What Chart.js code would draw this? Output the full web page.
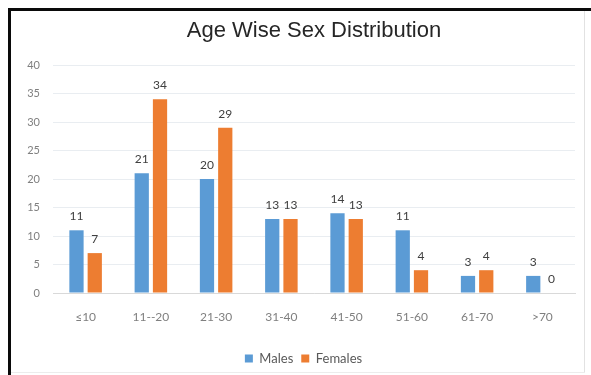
<!DOCTYPE html>
<html>
<head>
<meta charset="utf-8">
<script src="https://cdn.jsdelivr.net/npm/chart.js@4.4.1/dist/chart.umd.min.js"></script>
<style>
  html, body { margin: 0; padding: 0; background: #fff; }
  body { width: 591px; height: 375px; position: relative; overflow: hidden; }
  #wrap { position: absolute; left: 0; top: 0; width: 591px; height: 375px; }
  .frame-top { position: absolute; left: 8px; top: 8px; width: 583px; height: 3px; background: #0a0a0a; }
  .frame-left { position: absolute; left: 8px; top: 8px; width: 3px; height: 367px; background: #0a0a0a; }
  .frame-right { position: absolute; left: 584px; top: 11px; width: 1px; height: 362px; background: #e2e2e2; }
  .frame-bottom { position: absolute; left: 11px; top: 372px; width: 574px; height: 1px; background: #ececec; }
</style>
</head>
<body>
<div id="wrap"><canvas id="chart" width="591" height="375"></canvas></div>
<div class="frame-top"></div>
<div class="frame-left"></div>
<div class="frame-right"></div>
<div class="frame-bottom"></div>
<script>
// Age groups and counts per sex
const ageGroups = ['\u226410', '11--20', '21-30', '31-40', '41-50', '51-60', '61-70', '>70'];
const males = [11, 21, 20, 13, 14, 11, 3, 3];
const females = [7, 34, 29, 13, 13, 4, 4, 0];
const yTicks = [0, 5, 10, 15, 20, 25, 30, 35, 40];

const BLUE = '#5B9BD5';
const ORANGE = '#ED7D31';

// Value labels above each bar
const barValueLabels = {
  id: 'barValueLabels',
  afterDatasetsDraw(chart) {
    const ctx = chart.ctx;
    ctx.save();
    ctx.font = '12px Lato, "Open Sans", sans-serif';
    ctx.fillStyle = '#404040';
    ctx.textAlign = 'center';
    ctx.textBaseline = 'alphabetic';
    chart.data.datasets.forEach((ds, i) => {
      const meta = chart.getDatasetMeta(i);
      meta.data.forEach((bar, j) => {
        ctx.fillText(String(ds.data[j]), bar.x, bar.y - 10);
      });
    });
    ctx.restore();
  }
};

// Centre the legend between the y-axis labels and the right edge
const legendOffset = {
  id: 'legendOffset',
  afterLayout(chart) {
    if (chart.legend) {
      chart.legend.left += 21;
      chart.legend.right += 0;
    }
  }
};

new Chart(document.getElementById('chart'), {
  type: 'bar',
  data: {
    labels: ageGroups,
    datasets: [
      { label: 'Males', data: males, backgroundColor: BLUE, categoryPercentage: 0.56, barPercentage: 0.78 },
      { label: 'Females', data: females, backgroundColor: ORANGE, categoryPercentage: 0.56, barPercentage: 0.78 }
    ]
  },
  options: {
    responsive: false,
    animation: false,
    events: [],
    layout: { padding: { left: 11, right: 16, top: 11, bottom: 0 } },
    plugins: {
      title: {
        display: true,
        fullSize: false,
        text: 'Age Wise Sex Distribution',
        color: '#262626',
        font: { family: '"Liberation Sans", Arial, sans-serif', size: 22, weight: 'normal' },
        padding: { top: 7, bottom: 20.6 }
      },
      legend: {
        position: 'bottom',
        labels: {
          boxWidth: 8,
          boxHeight: 8,
          padding: 8,
          color: '#595959',
          font: { family: 'Lato, "Open Sans", sans-serif', size: 13 }
        }
      },
      tooltip: { enabled: false }
    },
    scales: {
      x: {
        grid: { display: false, drawTicks: false },
        border: { display: true, color: '#d9d9d9', width: 1 },
        ticks: {
          color: '#7f7f7f',
          padding: 17,
          font: { family: 'Lato, "Open Sans", sans-serif', size: 12 }
        },
        afterFit(scale) { scale.height = 51; }
      },
      y: {
        min: 0,
        max: 40,
        afterBuildTicks(scale) { scale.ticks = yTicks.map(v => ({ value: v })); },
        grid: { color: '#e9edf1', drawTicks: false },
        border: { display: false },
        ticks: {
          color: '#7f7f7f',
          padding: 13,
          font: { family: 'Lato, "Open Sans", sans-serif', size: 11 }
        },
        afterFit(scale) { scale.width = 42; }
      }
    }
  },
  plugins: [barValueLabels, legendOffset]
});
</script>
</body>
</html>
